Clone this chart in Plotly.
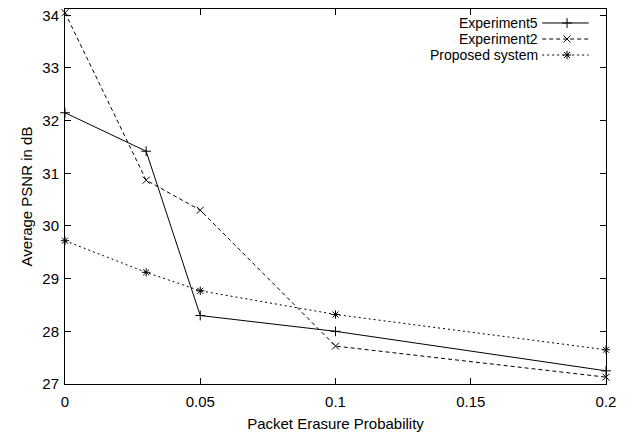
import plotly.graph_objects as go

# Packet erasure probabilities and measured PSNR (dB)
erasure = [0, 0.03, 0.05, 0.1, 0.2]
experiment5 = [32.15, 31.42, 28.30, 28.00, 27.25]
experiment2 = [34.05, 30.87, 30.30, 27.72, 27.13]
proposed = [29.72, 29.12, 28.77, 28.32, 27.65]

series_names = ["Experiment5", "Experiment2", "Proposed system"]
x_ticks = [0, 0.05, 0.1, 0.15, 0.2]
x_tick_text = ["0", "0.05", "0.1", "0.15", "0.2"]
y_ticks = [27, 28, 29, 30, 31, 32, 33, 34]

FONT = "Liberation Sans, Arial, Helvetica, sans-serif"
FSIZE = 15
KEY_FSIZE = 14
styles = [
    dict(dash="solid", symbol="cross-thin"),
    dict(dash="4px,3px", symbol="x-thin"),
    dict(dash="2px,3px", symbol="asterisk-open"),
]

fig = go.Figure()
for name, ys, st in zip(series_names, [experiment5, experiment2, proposed], styles):
    fig.add_trace(go.Scatter(
        x=erasure, y=ys, mode="lines+markers", name=name,
        line=dict(color="black", width=1, dash=st["dash"]),
        marker=dict(symbol=st["symbol"], size=7, color="black",
                    line=dict(color="black", width=1)),
        showlegend=False, cliponaxis=False,
    ))

# gnuplot-style key: right-aligned label, sample line with marker to its right
key_rows = [0.9627, 0.92, 0.8773]
for name, st, ky in zip(series_names, styles, key_rows):
    fig.add_trace(go.Scatter(
        x=[0.882, 0.968], y=[ky, ky], xaxis="x2", yaxis="y2", mode="lines",
        line=dict(color="black", width=1, dash=st["dash"]),
        showlegend=False, hoverinfo="skip",
    ))
    fig.add_trace(go.Scatter(
        x=[0.928], y=[ky], xaxis="x2", yaxis="y2", mode="markers",
        marker=dict(symbol=st["symbol"], size=7, color="black",
                    line=dict(color="black", width=1)),
        showlegend=False, hoverinfo="skip",
    ))
    fig.add_annotation(
        text=name, x=0.876, y=ky, xref="paper", yref="paper",
        xanchor="right", yanchor="middle", showarrow=False, borderpad=0,
        font=dict(family=FONT, size=KEY_FSIZE, color="black"),
    )

axis_common = dict(
    showgrid=False, zeroline=False, showline=True, linecolor="black",
    linewidth=1, mirror="ticks", ticks="inside", ticklen=6,
    tickcolor="black", tickwidth=1, automargin=False,
    tickfont=dict(family=FONT, size=FSIZE, color="black"),
)

fig.update_layout(
    width=633, height=432,
    margin=dict(l=65, r=27, t=9, b=48),
    paper_bgcolor="white", plot_bgcolor="white",
    xaxis=dict(range=[0, 0.2], tickvals=x_ticks, ticktext=x_tick_text,
               ticklabelstandoff=4,
               title=dict(text="Packet Erasure Probability", standoff=9,
                          font=dict(family=FONT, size=FSIZE, color="black")),
               **axis_common),
    yaxis=dict(range=[27, 34.12], tickvals=y_ticks, ticklabelstandoff=2,
               title=dict(text="Average PSNR in dB", standoff=6,
                          font=dict(family=FONT, size=FSIZE, color="black")),
               **axis_common),
    xaxis2=dict(range=[0, 1], overlaying="x", visible=False),
    yaxis2=dict(range=[0, 1], overlaying="y", visible=False),
)

fig.write_html("out.html")
